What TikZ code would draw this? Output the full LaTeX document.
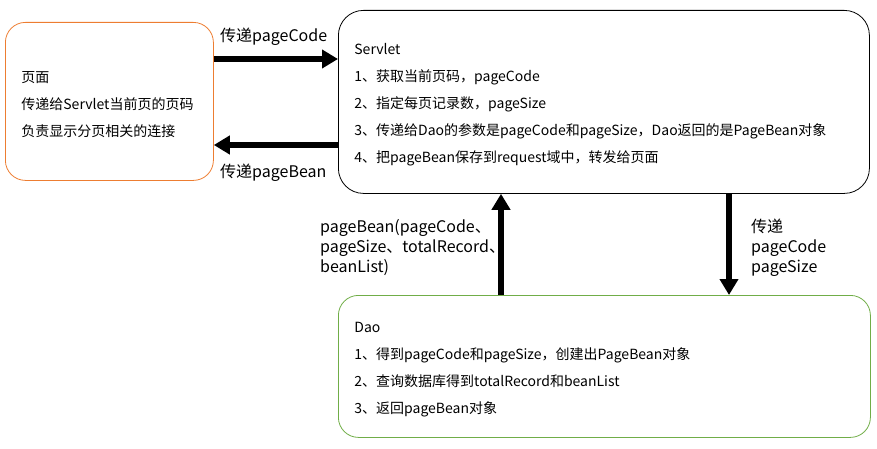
\documentclass[tikz,border=0pt]{standalone}
\usepackage{fontspec}
\setmainfont{Noto Sans CJK SC}
\usepackage{xcolor}
\usetikzlibrary{arrows.meta}
\definecolor{pageorange}{HTML}{ED7D31}
\definecolor{daogreen}{HTML}{70AD47}
\newcommand{\toppad}{\rule{0pt}{17.5pt}}

\begin{document}
\begin{tikzpicture}[
    x=1pt, y=-1pt,
    box/.style={draw, line width=0.8pt, anchor=north west, align=left,
      inner xsep=16pt, inner ysep=0pt, font=\fontsize{14}{27}\selectfont},
    flow/.style={line width=6pt, -{Triangle[length=16pt,width=18pt]}},
    lbl/.style={anchor=west, align=left, inner sep=0pt,
      font=\fontsize{16}{20}\selectfont}
  ]
    \useasboundingbox (0,0) rectangle (877,449);

    \node[box, draw=pageorange, rounded corners=20pt, text width=176pt,
      minimum height=158pt] (page) at (5,22)
      {\toppad 页面\\传递给Servlet当前页的页码\\负责显示分页相关的连接};
    \node[box, rounded corners=25pt, text width=499pt,
      minimum height=183pt] (servlet) at (338,10)
      {\toppad Servlet\\1、获取当前页码，pageCode\\2、指定每页记录数，pageSize\\
       3、传递给Dao的参数是pageCode和pageSize，Dao返回的是PageBean对象\\
       4、把pageBean保存到request域中，转发给页面};
    \node[box, draw=daogreen, rounded corners=20pt, text width=500pt,
      minimum height=142pt] (dao) at (338,295)
      {\toppad Dao\\1、得到pageCode和pageSize，创建出PageBean对象\\
       2、查询数据库得到totalRecord和beanList\\3、返回pageBean对象};

    \node[lbl] (codelbl) at (220,37) {传递pageCode};
    \node[lbl] (beanlbl) at (220,173) {传递pageBean};
    \node[lbl] (resultlbl) at (320,248)
      {pageBean(pageCode、\\pageSize、totalRecord、\\beanList)};
    \node[lbl] (paramlbl) at (751,248) {传递\\pageCode\\pageSize};

    \draw[flow] (page.east |- 0,59) -- (servlet.west |- 0,59);
    \draw[flow] (servlet.west |- 0,145) -- (page.east |- 0,145);
    \draw[flow] (dao.north -| 501,0) -- (servlet.south -| 501,0);
    \draw[flow] (servlet.south -| 729,0) -- (dao.north -| 729,0);
  \end{tikzpicture}
\end{document}
